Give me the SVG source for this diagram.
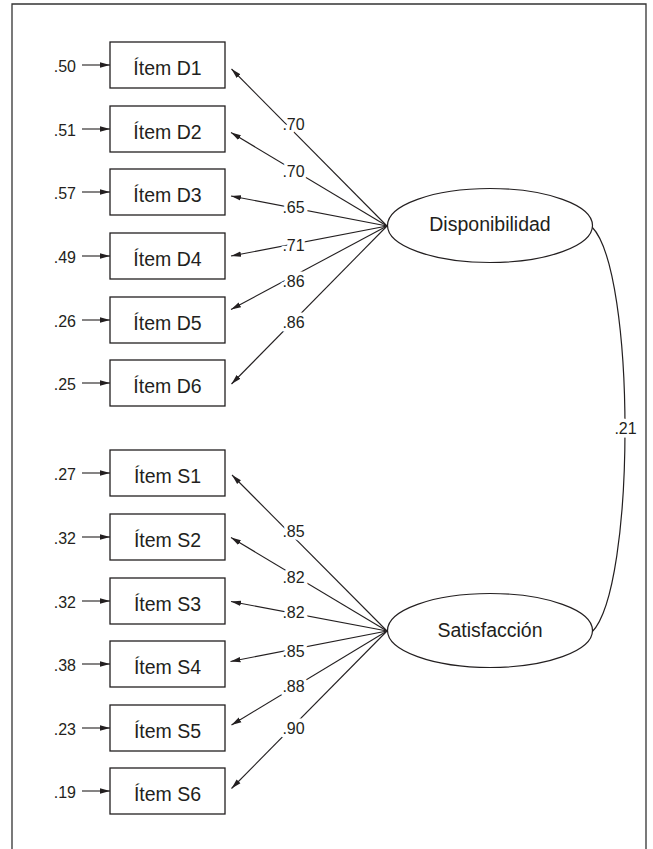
<svg xmlns="http://www.w3.org/2000/svg" width="653" height="849" viewBox="0 0 653 849">
<style>
.box{fill:#fff;stroke:#231f20;stroke-width:1.3}
.lat{fill:#fff;stroke:#231f20;stroke-width:1.2}
.t{font-family:"Liberation Sans",Arial,sans-serif;font-size:19.5px;fill:#231f20;text-anchor:middle}
.n{font-family:"Liberation Sans",Arial,sans-serif;font-size:16px;fill:#231f20}
.c{text-anchor:middle;stroke:#fff;stroke-width:7;paint-order:stroke;stroke-linejoin:round}
.r{text-anchor:end}
.ln{stroke:#231f20;stroke-width:1.1;fill:none;marker-end:url(#ah)}
.cv{stroke:#231f20;stroke-width:1.2;fill:none}
</style>
<defs>
<marker id="ah" markerUnits="userSpaceOnUse" markerWidth="10" markerHeight="7" refX="10" refY="3.5" orient="auto">
<path d="M0,0.8 L10,3.5 L0,6.2 Z" fill="#231f20"/>
</marker>
</defs>
<rect width="653" height="849" fill="#fff"/>
<path d="M12,849 V4 H646 V849" fill="none" stroke="#333" stroke-width="1.3"/>

<g id="connectors">
<!-- residual arrows -->
<line class="ln" x1="82" y1="65" x2="110" y2="65"/>
<line class="ln" x1="82" y1="129" x2="110" y2="129"/>
<line class="ln" x1="82" y1="192" x2="110" y2="192"/>
<line class="ln" x1="82" y1="256" x2="110" y2="256"/>
<line class="ln" x1="82" y1="320" x2="110" y2="320"/>
<line class="ln" x1="82" y1="383" x2="110" y2="383"/>
<line class="ln" x1="82" y1="473" x2="110" y2="473"/>
<line class="ln" x1="82" y1="537" x2="110" y2="537"/>
<line class="ln" x1="82" y1="601" x2="110" y2="601"/>
<line class="ln" x1="82" y1="664" x2="110" y2="664"/>
<line class="ln" x1="82" y1="728" x2="110" y2="728"/>
<line class="ln" x1="82" y1="791" x2="110" y2="791"/>
<!-- loadings Disponibilidad -->
<line class="ln" x1="387" y1="226" x2="231.5" y2="69"/>
<line class="ln" x1="387" y1="226" x2="231" y2="132.5"/>
<line class="ln" x1="387" y1="226" x2="231" y2="196"/>
<line class="ln" x1="387" y1="226" x2="231" y2="256"/>
<line class="ln" x1="387" y1="226" x2="231" y2="309.5"/>
<line class="ln" x1="387" y1="226" x2="231.5" y2="384"/>
<!-- loadings Satisfaccion -->
<line class="ln" x1="387" y1="631" x2="232" y2="475"/>
<line class="ln" x1="387" y1="631" x2="231" y2="537.5"/>
<line class="ln" x1="387" y1="631" x2="231" y2="601.5"/>
<line class="ln" x1="387" y1="631" x2="230.5" y2="661.5"/>
<line class="ln" x1="387" y1="631" x2="231.5" y2="725"/>
<line class="ln" x1="387" y1="631" x2="231.5" y2="788.5"/>
<!-- covariance -->
<path class="cv" d="M592,227 C636,272 636,587 592,632"/>
<!-- loading labels -->
<text class="n c" x="293.5" y="130">.70</text>
<text class="n c" x="293.5" y="177">.70</text>
<text class="n c" x="293.5" y="212.5">.65</text>
<text class="n c" x="293.5" y="251">.71</text>
<text class="n c" x="293.5" y="286.5">.86</text>
<text class="n c" x="293.5" y="328">.86</text>
<text class="n c" x="293.5" y="536.5">.85</text>
<text class="n c" x="293.5" y="583">.82</text>
<text class="n c" x="293.5" y="618">.82</text>
<text class="n c" x="293.5" y="657">.85</text>
<text class="n c" x="293.5" y="691.5">.88</text>
<text class="n c" x="293.5" y="734">.90</text>
<text class="n c" x="625.5" y="434">.21</text>
<!-- residual labels -->
<text class="n r" x="76" y="72">.50</text>
<text class="n r" x="76" y="136">.51</text>
<text class="n r" x="76" y="199">.57</text>
<text class="n r" x="76" y="263">.49</text>
<text class="n r" x="76" y="327">.26</text>
<text class="n r" x="76" y="390">.25</text>
<text class="n r" x="76" y="480">.27</text>
<text class="n r" x="76" y="544">.32</text>
<text class="n r" x="76" y="608">.32</text>
<text class="n r" x="76" y="671">.38</text>
<text class="n r" x="76" y="735">.23</text>
<text class="n r" x="76" y="798">.19</text>
</g>

<g id="itemD1"><rect class="box" x="110" y="42" width="115" height="46"/><text class="t" x="167.5" y="75">Ítem D1</text></g>
<g id="itemD2"><rect class="box" x="110" y="106" width="115" height="46"/><text class="t" x="167.5" y="139">Ítem D2</text></g>
<g id="itemD3"><rect class="box" x="110" y="169" width="115" height="46"/><text class="t" x="167.5" y="202">Ítem D3</text></g>
<g id="itemD4"><rect class="box" x="110" y="233" width="115" height="46"/><text class="t" x="167.5" y="266">Ítem D4</text></g>
<g id="itemD5"><rect class="box" x="110" y="297" width="115" height="46"/><text class="t" x="167.5" y="330">Ítem D5</text></g>
<g id="itemD6"><rect class="box" x="110" y="360" width="115" height="46"/><text class="t" x="167.5" y="393">Ítem D6</text></g>
<g id="itemS1"><rect class="box" x="110" y="450" width="115" height="46"/><text class="t" x="167.5" y="483">Ítem S1</text></g>
<g id="itemS2"><rect class="box" x="110" y="514" width="115" height="46"/><text class="t" x="167.5" y="547">Ítem S2</text></g>
<g id="itemS3"><rect class="box" x="110" y="578" width="115" height="46"/><text class="t" x="167.5" y="611">Ítem S3</text></g>
<g id="itemS4"><rect class="box" x="110" y="641" width="115" height="46"/><text class="t" x="167.5" y="674">Ítem S4</text></g>
<g id="itemS5"><rect class="box" x="110" y="705" width="115" height="46"/><text class="t" x="167.5" y="738">Ítem S5</text></g>
<g id="itemS6"><rect class="box" x="110" y="768" width="115" height="46"/><text class="t" x="167.5" y="801">Ítem S6</text></g>

<g id="Disponibilidad"><ellipse class="lat" cx="490" cy="225.5" rx="102.5" ry="37"/><text class="t" x="490" y="231">Disponibilidad</text></g>
<g id="Satisfaccion"><ellipse class="lat" cx="490" cy="630.5" rx="102.5" ry="37"/><text class="t" x="490" y="637">Satisfacción</text></g>
</svg>
